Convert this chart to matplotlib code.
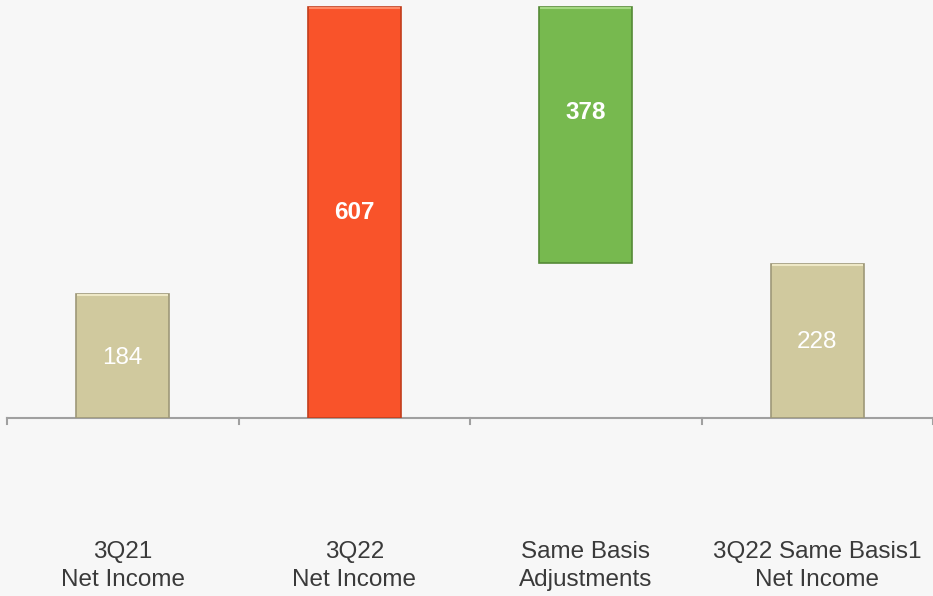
import matplotlib
matplotlib.use("Agg")
import matplotlib.pyplot as plt
import numpy as np

# Waterfall data: 3Q21 -> 3Q22 net income and same-basis adjustment
categories = ["3Q21\nNet Income", "3Q22\nNet Income", "Same Basis\nAdjustments", "3Q22 Same Basis1\nNet Income"]
values = [184, 607, 378, 228]
bottoms = [0, 0, 229, 0]
colors = ["#d0c99e", "#f9532a", "#77b94f", "#d0c99e"]
edge_colors = ["#9e9878", "#c23e1c", "#558a36", "#9e9878"]
highlight_colors = ["#eee8c6", "#ff8a66", "#a4d882", "#eee8c6"]
label_bold = [False, True, True, False]
label_frac = [0.48, 0.5, 0.59, 0.49]  # label position, fraction of bar height from the bottom

bg = "#f7f7f7"
plt.rcParams["font.family"] = ["Liberation Sans", "DejaVu Sans"]

W, H = 933, 596
fig = plt.figure(figsize=(W / 100, H / 100), dpi=100, facecolor=bg)
ax = fig.add_axes([7 / W, 178 / H, 926 / W, 418 / H])
ax.set_facecolor(bg)

x = np.arange(len(categories))
width = 0.4
ax.bar(x, values, width=width, bottom=bottoms, color=colors,
       edgecolor=edge_colors, linewidth=1.2, zorder=2)

# thin highlight along the top of each bar for a bevelled look
for xi, v, b, hc in zip(x, values, bottoms, highlight_colors):
    ax.plot([xi - width / 2 + 0.004, xi + width / 2 - 0.004], [b + v - 1.5, b + v - 1.5],
            color=hc, linewidth=1.5, zorder=3, solid_capstyle="butt")

for xi, v, b, bold, fr in zip(x, values, bottoms, label_bold, label_frac):
    ax.text(xi, b + v * fr, f"{v}", ha="center", va="center", color="white",
            fontsize=17.5, fontweight="bold" if bold else "normal", zorder=4)

ax.set_xlim(-0.5, len(categories) - 0.5)
ax.set_ylim(0, 618)

# category axis line with boundary ticks
ax.axhline(0, color="#a0a0a0", linewidth=1.5, zorder=1, clip_on=False)
for t in np.arange(-0.5, len(categories), 1.0):
    ax.plot([t, t], [0, -9], color="#a0a0a0", linewidth=1.5, clip_on=False, zorder=1)

for sp in ax.spines.values():
    sp.set_visible(False)
ax.set_xticks([])
ax.set_yticks([])

# category labels below the axis
label_tr = matplotlib.transforms.blended_transform_factory(ax.transData, fig.transFigure)
for xi, lab in zip(x, categories):
    ax.text(xi, 1 - 566 / H, lab, transform=label_tr, ha="center", va="center",
            fontsize=17.5, color="#3a3a3a", linespacing=1.3, clip_on=False)

fig.savefig("out.png", dpi=100, facecolor=bg)
